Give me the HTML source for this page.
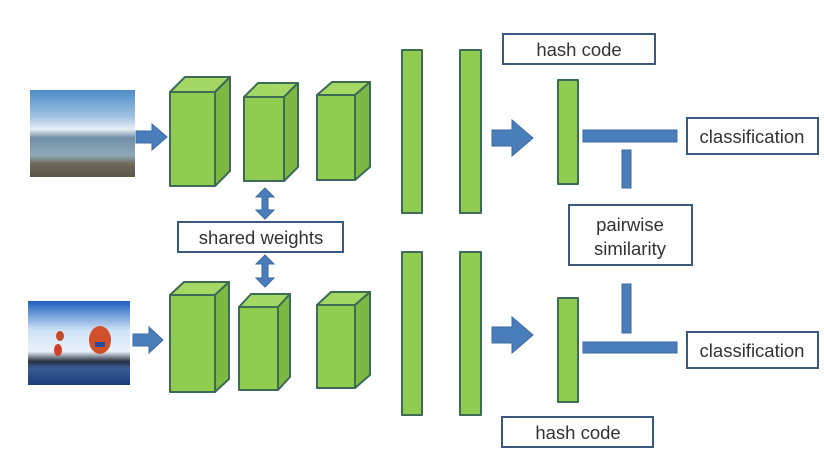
<!DOCTYPE html>
<html><head><meta charset="utf-8"><style>
html,body{margin:0;padding:0;background:#fff;}
svg{display:block;}
text{font-family:"Liberation Sans","DejaVu Sans",sans-serif;fill:#333;}
</style></head><body>
<svg width="824" height="454" viewBox="0 0 824 454" xmlns="http://www.w3.org/2000/svg">
<defs>
<linearGradient id="sky1" x1="0" y1="0" x2="0" y2="1">
<stop offset="0" stop-color="#4f8cc8"/><stop offset="0.3" stop-color="#9cc2e0"/><stop offset="0.45" stop-color="#e8eef4"/><stop offset="0.55" stop-color="#6f8fa8"/><stop offset="0.75" stop-color="#8fa9b8"/><stop offset="0.85" stop-color="#6d6a5a"/><stop offset="1" stop-color="#5a5548"/>
</linearGradient>
<linearGradient id="sky2" x1="0" y1="0" x2="0" y2="1">
<stop offset="0" stop-color="#1f5fbf"/><stop offset="0.35" stop-color="#cfe2f6"/><stop offset="0.6" stop-color="#e9f2fb"/><stop offset="0.72" stop-color="#263040"/><stop offset="0.8" stop-color="#3a5d95"/><stop offset="1" stop-color="#1b3e7a"/>
</linearGradient>
</defs>
<rect x="30" y="90" width="105" height="87" fill="url(#sky1)"/>
<rect x="28" y="301" width="102" height="84" fill="url(#sky2)"/>
<ellipse cx="100" cy="340" rx="11" ry="14" fill="#d0502a"/>
<rect x="95" y="342" width="10" height="5" fill="#2a4a9a"/>
<ellipse cx="60" cy="336" rx="4" ry="5" fill="#c24a2a"/>
<ellipse cx="58" cy="350" rx="4" ry="6" fill="#d0402a"/>

<g fill="#4a7ebb" stroke="#3a6aa5" stroke-width="1">
<polygon points="136,131 152,131 152,124 167,137 152,150 152,143 136,143"/>
<polygon points="133,334 149,334 149,327 163,340 149,353 149,346 133,346"/>
<polygon points="492,130 512,130 512,120 533,138 512,156 512,146 492,146"/>
<polygon points="492,327 512,327 512,317 533,335 512,353 512,343 492,343"/>
<polygon points="265,188 274,197 268,197 268,210 274,210 265,219 256,210 262,210 262,197 256,197"/>
<polygon points="265,255 274,264 268,264 268,278 274,278 265,287 256,278 262,278 262,264 256,264"/>
<rect x="583" y="130" width="94" height="12"/>
<rect x="622" y="150" width="9" height="38"/>
<rect x="622" y="284" width="9" height="49"/>
<rect x="583" y="342" width="94" height="11"/>
</g>

<g stroke="#3d6b55" stroke-width="2" stroke-linejoin="round">
<polygon points="170,92 185,77 230,77 215,92" fill="#a3d865"/>
<polygon points="215,92 230,77 230,171 215,186" fill="#7db843"/>
<rect x="170" y="92" width="45" height="94" fill="#8fcc4f"/>
<polygon points="244,97 258,83 298,83 284,97" fill="#a3d865"/>
<polygon points="284,97 298,83 298,167 284,181" fill="#7db843"/>
<rect x="244" y="97" width="40" height="84" fill="#8fcc4f"/>
<polygon points="317,95 332,82 370,82 355,95" fill="#a3d865"/>
<polygon points="355,95 370,82 370,167 355,180" fill="#7db843"/>
<rect x="317" y="95" width="38" height="85" fill="#8fcc4f"/>
<polygon points="170,295 184,282 229,282 215,295" fill="#a3d865"/>
<polygon points="215,295 229,282 229,379 215,392" fill="#7db843"/>
<rect x="170" y="295" width="45" height="97" fill="#8fcc4f"/>
<polygon points="239,307 251,294 290,294 278,307" fill="#a3d865"/>
<polygon points="278,307 290,294 290,377 278,390" fill="#7db843"/>
<rect x="239" y="307" width="39" height="83" fill="#8fcc4f"/>
<polygon points="317,305 331,292 370,292 355,305" fill="#a3d865"/>
<polygon points="355,305 370,292 370,375 355,388" fill="#7db843"/>
<rect x="317" y="305" width="38" height="83" fill="#8fcc4f"/>
<rect x="402" y="50" width="20" height="163" fill="#8fcc4f"/>
<rect x="460" y="50" width="21" height="163" fill="#8fcc4f"/>
<rect x="402" y="252" width="20" height="163" fill="#8fcc4f"/>
<rect x="460" y="252" width="21" height="163" fill="#8fcc4f"/>
<rect x="558" y="80" width="20" height="104" fill="#8fcc4f"/>
<rect x="558" y="298" width="20" height="104" fill="#8fcc4f"/>
</g>

<g fill="#fff" stroke="#3b5a7e" stroke-width="2">
<rect x="178" y="222" width="165" height="30"/>
<rect x="503" y="34" width="152" height="30"/>
<rect x="502" y="417" width="151" height="30"/>
<rect x="687" y="118" width="131" height="36"/>
<rect x="687" y="332" width="131" height="36"/>
<rect x="569" y="205" width="123" height="60"/>
</g>
<g font-size="18.5" text-anchor="middle">
<text x="261" y="244">shared weights</text>
<text x="579" y="56">hash code</text>
<text x="578" y="439">hash code</text>
<text x="752" y="143">classification</text>
<text x="752" y="357">classification</text>
<text x="630" y="231">pairwise</text>
<text x="630" y="255">similarity</text>
</g>
</svg>
</body></html>
